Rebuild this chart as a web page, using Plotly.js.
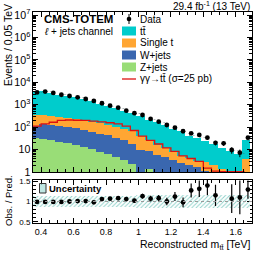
<!DOCTYPE html>
<html><head><meta charset="utf-8">
<script src="https://cdn.plot.ly/plotly-3.0.1.min.js"></script>
<style>body{margin:0;background:#fff}#chart{width:266px;height:253px}</style>
</head><body><div id="chart"></div>
<script>
const binCenters = [0.375,0.425,0.475,0.525,0.575,0.625,0.675,0.725,0.775,0.825,0.875,0.925,0.975,1.025,1.075,1.125,1.175,1.225,1.275,1.325,1.375,1.425,1.475,1.525,1.575,1.625,1.675];
const dataEvents = [3550,3900,3370,2800,2460,2150,1810,1480,1170,910,740,545,420,350,233,176,125,95,66,53,45,34,20,19,9.6,7.3,34];
const dataErr = [60,62,58,53,50,46,43,38,34,30,27,23,20,19,15,13,11,10,8,7,7,6,4.5,4.4,3.1,2.7,5.8];
const ttbar = [3243,3593,3084,2542,2197,1896,1586,1332,949,724,580,430,341,270,191,146,113,77,62,38,31,21.6,15.4,10.7,8.4,6,22.3];
const singleTop = [235,215,190,176,163,145,128,115,99,83,71,59,51,30,18.3,10.6,6.7,4.6,2.5,2.0,1.54,1.8,1.6,0.9,0.3,0.3,3.2];
const wjets = [80,103,99,90,81,73,62.5,52.8,44,36.7,29.2,22.5,15.6,9.2,7.35,5.7,4.5,3.2,2.2,1.8,1.46,0.9,0.3,0.3,0.2,0.2,0.3];
const zjets = [32,29,27,22,19,16,13.5,10.2,8.1,6.3,4.8,3.5,2.2,0.8,1.35,0.3,0.3,0.3,0.3,0.3,0.2,0.2,0.1,0.1,0.1,0.1,0.2];
const signal = [112,141,166,200,209,204,200,186,174,158,141,112,71,40,26,17.8,12,8.3,5.2,4,3,1.5,1.1,1.05,1.05,1.05,0.5];
const ratio = [0.99,0.99,0.99,0.99,1.0,1.01,1.01,0.98,1.06,1.07,1.08,1.06,1.02,1.13,1.07,1.08,1.0,1.12,0.98,1.27,1.31,1.39,1.15,null,1.07,1.1,1.29];
const ratioErr = [0.017,0.016,0.017,0.019,0.02,0.022,0.024,0.025,0.031,0.035,0.04,0.045,0.05,0.06,0.07,0.08,0.09,0.11,0.12,0.17,0.2,0.24,0.26,0,0.35,0.41,0.22];
const uncRel = [0.14,0.14,0.14,0.14,0.14,0.14,0.14,0.14,0.14,0.14,0.14,0.145,0.145,0.15,0.15,0.15,0.15,0.155,0.155,0.16,0.16,0.16,0.16,0.165,0.165,0.17,0.17];
const binWidth = 0.05;

const C_TT = '#00CCCC', C_ST = '#FFA633', C_W = '#3A67AF', C_Z = '#99DD77', C_SIG = '#DD1111';
const FONT = 'Liberation Sans, Arial, sans-serif';
const TT = 'tt\u0304';

const total = binCenters.map((_, i) => ttbar[i] + singleTop[i] + wjets[i] + zjets[i]);
const bar = (y, color, name) => ({type:'bar', x:binCenters, y:y, width:binWidth, name:name,
  marker:{color:color, line:{width:0}}, xaxis:'x', yaxis:'y', showlegend:false, hoverinfo:'skip'});

const sigX = binCenters.map(c => c - binWidth/2).concat([binCenters[binCenters.length-1] + binWidth/2]);
const sigY = signal.concat([signal[signal.length-1]]);

const traces = [
  bar(zjets, C_Z, 'Z+jets'),
  bar(wjets, C_W, 'W+jets'),
  bar(singleTop, C_ST, 'Single t'),
  bar(ttbar, C_TT, TT),
  {type:'bar', x:binCenters, y:total.map((t,i)=>2*t*uncRel[i]*0.15), base:total.map((t,i)=>t*(1-uncRel[i]*0.15)),
   width:binWidth, marker:{color:'rgba(0,0,0,0)', line:{width:0}, pattern:{shape:'/', fgcolor:'rgba(60,90,90,0.6)', size:3, solidity:0.3}},
   xaxis:'x', yaxis:'y', showlegend:false, hoverinfo:'skip', offsetgroup:'band'},
  {type:'scatter', mode:'lines', x:sigX, y:sigY, line:{shape:'hv', color:C_SIG, width:1.3}, xaxis:'x', yaxis:'y', showlegend:false},
  {type:'scatter', mode:'markers', x:binCenters, y:dataEvents, marker:{color:'#000', size:4.8},
   error_y:{type:'data', array:dataErr, color:'#000', thickness:1, width:0}, xaxis:'x', yaxis:'y', showlegend:false},
  {type:'bar', x:binCenters, y:uncRel.map(u=>2*u), base:uncRel.map(u=>1-u), width:binWidth,
   marker:{color:'rgba(175,225,220,0.55)', line:{width:0}, pattern:{shape:'/', fgcolor:'rgba(110,195,185,0.8)', size:3, solidity:0.3}},
   xaxis:'x2', yaxis:'y2', showlegend:false, hoverinfo:'skip'},
  {type:'scatter', mode:'markers', x:binCenters, y:ratio, marker:{color:'#000', size:4.8},
   error_y:{type:'data', array:ratioErr, color:'#000', thickness:1.2, width:0}, xaxis:'x2', yaxis:'y2', showlegend:false}
];

const px = v => (v - 33) / 219;
const py = v => (223 - v) / 211;
const shapes = [
  {type:'line', xref:'x2', yref:'y2', x0:0.35, x1:1.7, y0:1, y1:1, line:{color:'#999', width:1, dash:'dot'}},
  {type:'rect', xref:'paper', yref:'paper', x0:px(39.5), x1:px(46), y0:py(193), y1:py(183.5), fillcolor:'rgba(175,225,220,0.8)', line:{color:'#333', width:1}},
  {type:'line', xref:'paper', yref:'paper', x0:px(129), x1:px(129), y0:py(14), y1:py(24), line:{color:'#000', width:1}},
  {type:'circle', xref:'paper', yref:'paper', x0:px(126.7), x1:px(131.3), y0:py(21.3), y1:py(16.7), fillcolor:'#000', line:{color:'#000', width:0}},
  {type:'line', xref:'paper', yref:'paper', x0:px(122), x1:px(136), y0:py(79), y1:py(79), line:{color:C_SIG, width:1.3}}
];
const legItems = [[TT, C_TT, 31], ['Single t', C_ST, 43], ['W+jets', C_W, 55], ['Z+jets', C_Z, 67]];
legItems.forEach(([t, c, y]) => shapes.push({type:'rect', xref:'paper', yref:'paper', x0:px(122), x1:px(136), y0:py(y+4.5), y1:py(y-4.5), fillcolor:c, line:{width:0}}));

const ann = (text, x, y, opts) => Object.assign({text:text, xref:'paper', yref:'paper', x:x, y:y, showarrow:false,
  xanchor:'left', yanchor:'middle', font:{family:FONT, size:10, color:'#000'}}, opts || {});
const annotations = [
  ann('<b>CMS-TOTEM</b>', px(42), py(19), {font:{family:FONT, size:11.5, color:'#000'}}),
  ann('<i>ℓ</i> + jets channel', px(42), py(32)),
  ann('29.4 fb<sup>-1</sup> (13 TeV)', 1.0, py(6), {xanchor:'right'}),
  ann('Events / 0.05 TeV', px(8), py(2), {xanchor:'center', yanchor:'top', textangle:-90, font:{family:FONT, size:10.5, color:'#000'}}),
  ann('Obs. / Pred.', px(8), py(201), {xanchor:'center', textangle:-90, font:{family:FONT, size:9.5, color:'#000'}}),
  ann('Reconstructed m<sub>' + TT + '</sub> [TeV]', 1.0, py(245), {xanchor:'right', font:{family:FONT, size:10.5, color:'#000'}}),
  ann('<b>Uncertainty</b>', px(47), py(188), {font:{family:FONT, size:9.5, color:'#000'}}),
  ann('Data', px(138), py(19)),
  ann('γγ→' + TT + ' (σ=25 pb)', px(138), py(79))
].concat(legItems.map(([t, c, y]) => ann(t, px(138), py(y))));

const axBase = {showline:true, linecolor:'#000', linewidth:1, mirror:'allticks', ticks:'inside', ticklen:5, tickcolor:'#000',
  zeroline:false, showgrid:false, tickfont:{family:FONT, size:9, color:'#000'}};

const layout = {
  width:266, height:253, margin:{l:33, r:14, t:12, b:30}, paper_bgcolor:'#fff', plot_bgcolor:'#fff',
  barmode:'stack', bargap:0, showlegend:false, font:{family:FONT, color:'#000'},
  xaxis:Object.assign({}, axBase, {range:[0.35,1.7], anchor:'y', showticklabels:false, dtick:0.2, tick0:0.4,
    minor:{ticks:'inside', ticklen:3, dtick:0.05, tickcolor:'#000'}}),
  yaxis:Object.assign({}, axBase, {type:'log', range:[0,7.14], domain:[0.2417,1], dtick:1, exponentformat:'power',
    tickfont:{family:FONT, size:8.5, color:'#000'},
    minor:{ticks:'inside', ticklen:3, dtick:'D1', tickcolor:'#000'}}),
  xaxis2:Object.assign({}, axBase, {range:[0.35,1.7], anchor:'y2', matches:'x', dtick:0.2, tick0:0.4, ticklen:5,
    minor:{ticks:'inside', ticklen:3, dtick:0.05, tickcolor:'#000'}}),
  yaxis2:Object.assign({}, axBase, {range:[0.475,1.525], domain:[0,0.2038], anchor:'x2', tickvals:[0.5,1,1.5], ticktext:['0.5','1','1.5'],
    tickfont:{family:FONT, size:8, color:'#000'},
    minor:{ticks:'inside', ticklen:2.5, dtick:0.1, tickcolor:'#000'}}),
  shapes:shapes, annotations:annotations
};
Plotly.newPlot('chart', traces, layout, {staticPlot:true, displayModeBar:false});
</script></body></html>
